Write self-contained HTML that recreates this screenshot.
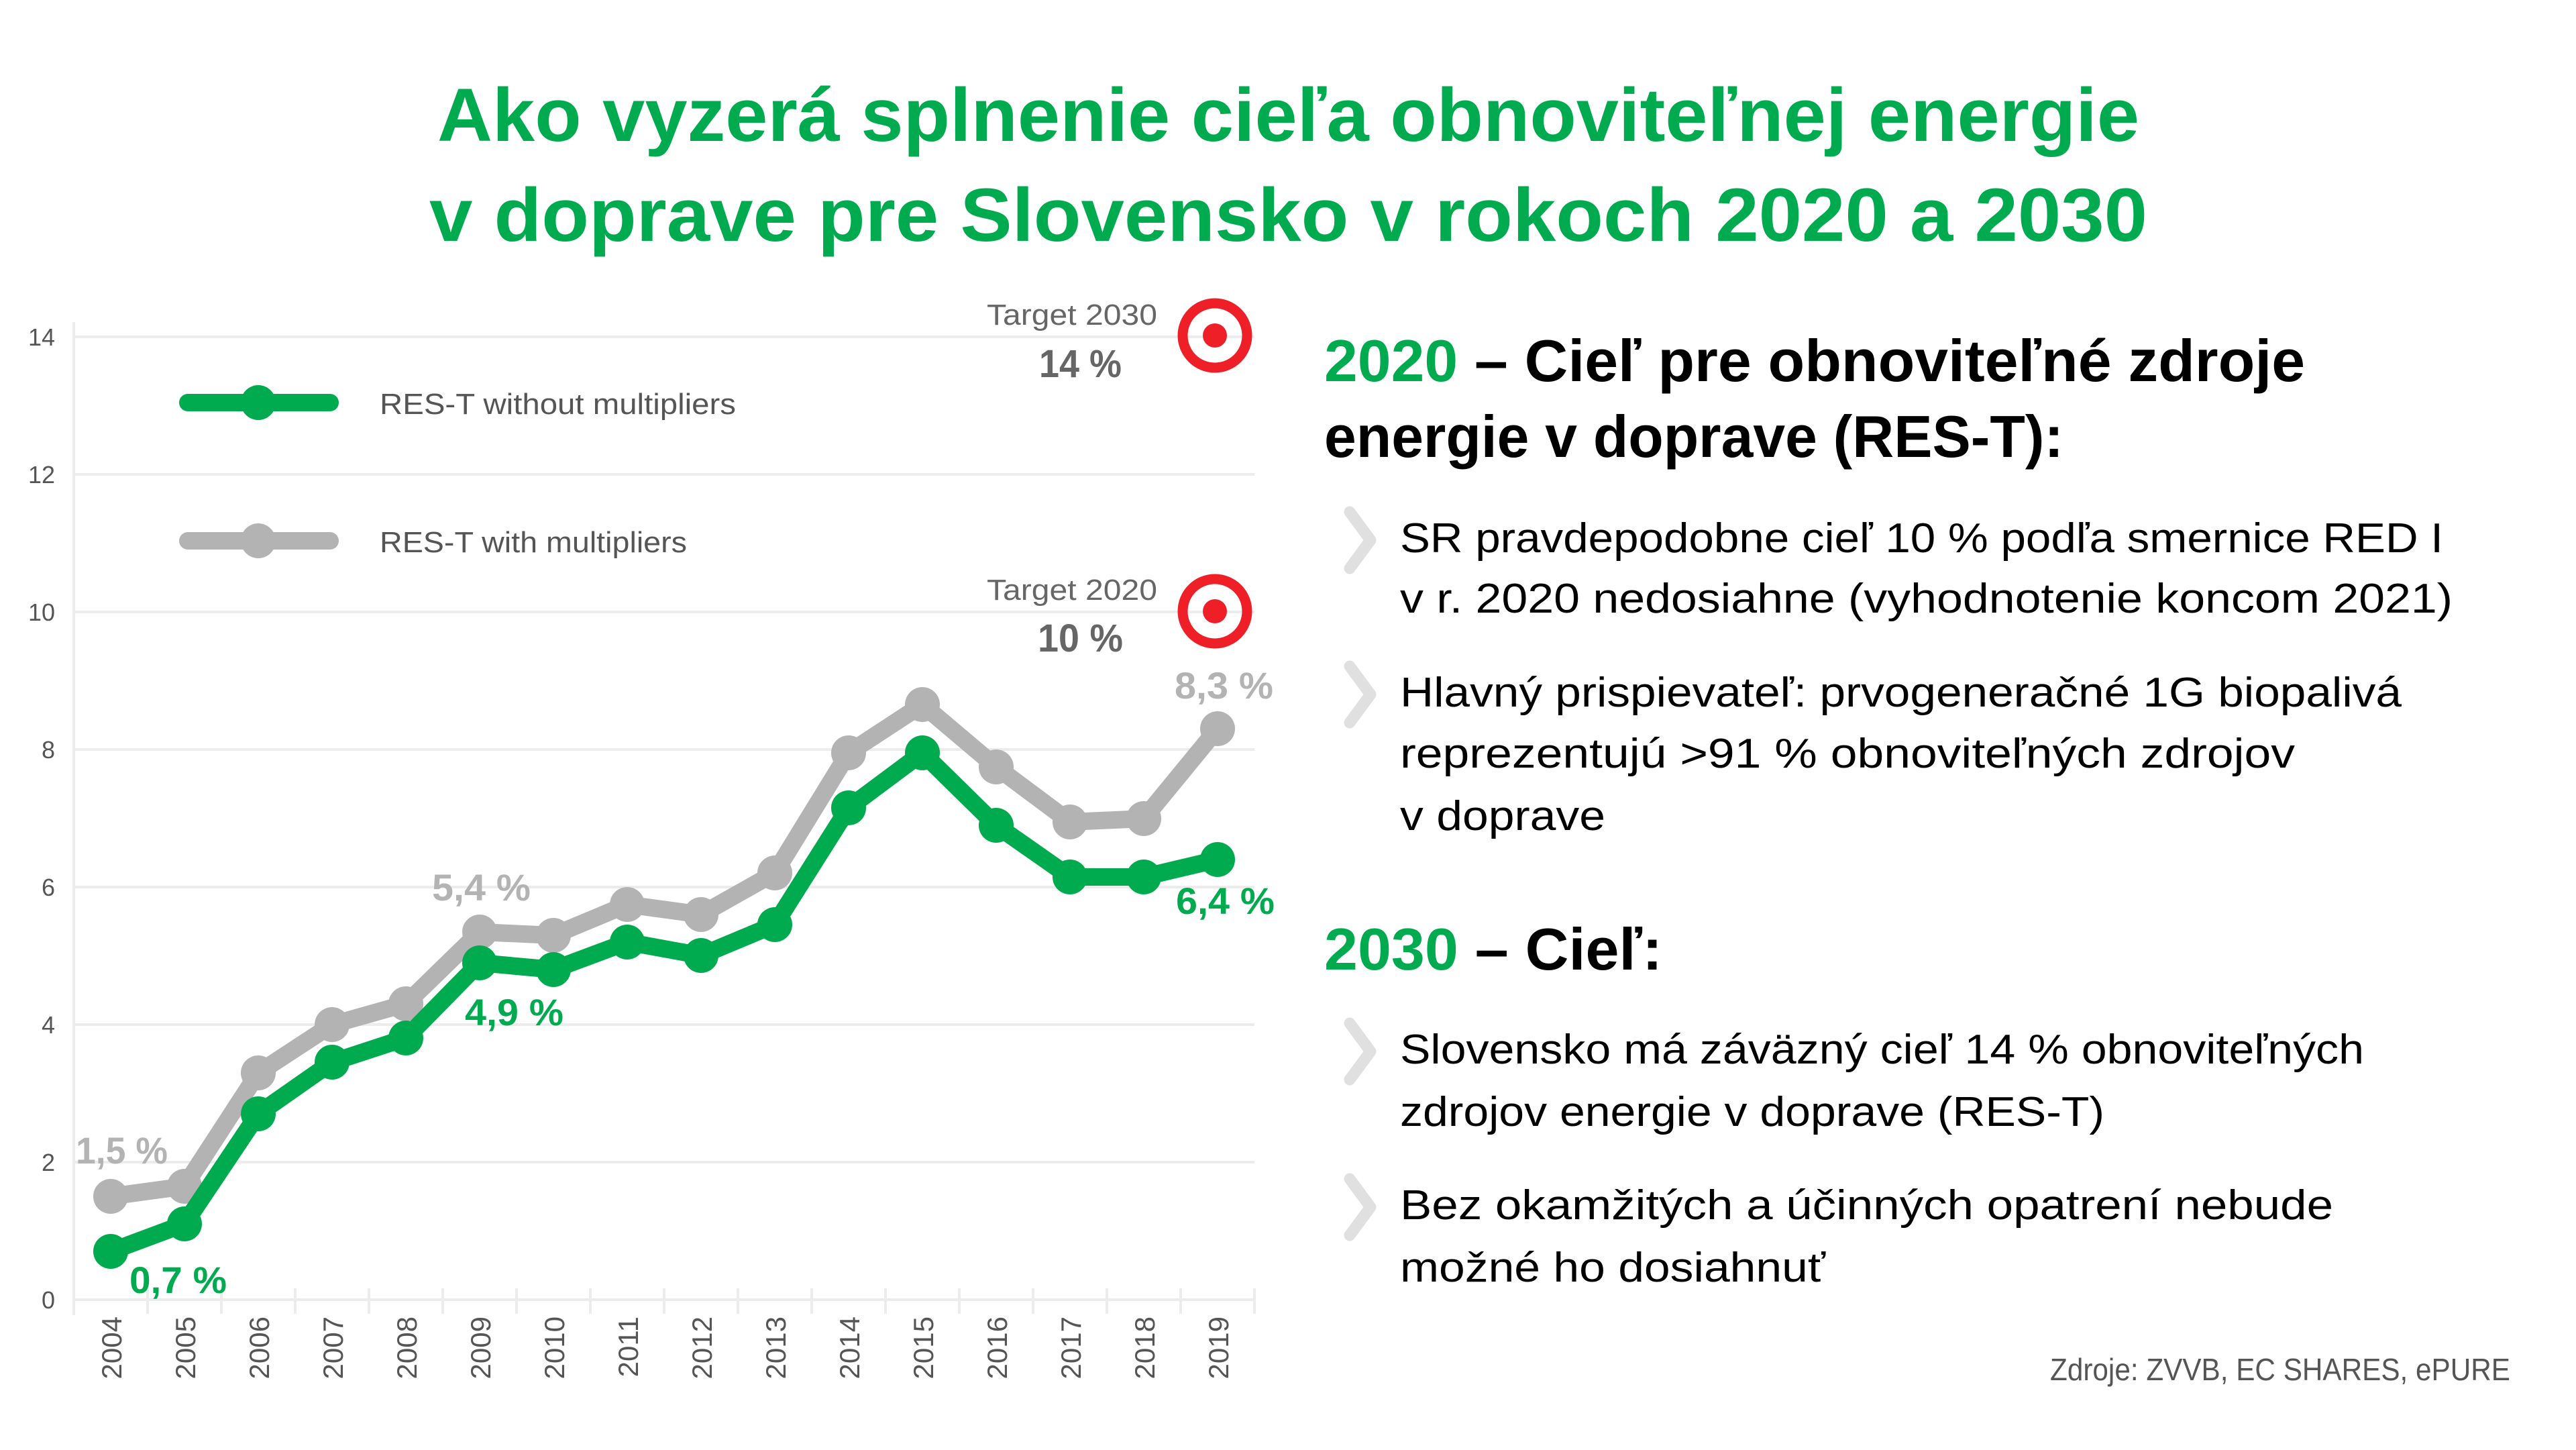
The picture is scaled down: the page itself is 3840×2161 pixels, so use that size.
<!DOCTYPE html>
<html><head><meta charset="utf-8"><style>
html,body{margin:0;padding:0;background:#fff;}
svg{display:block;}
text{font-family:"Liberation Sans",sans-serif;}
</style></head><body>
<svg width="3840" height="2161" viewBox="0 0 3840 2161" xmlns="http://www.w3.org/2000/svg">
<rect width="3840" height="2161" fill="#fff"/>
<g fill="#00aa4f" font-weight="bold" font-size="112">
<text x="652" y="210" textLength="2537" lengthAdjust="spacingAndGlyphs">Ako vyzerá splnenie cieľa obnoviteľnej energie</text>
<text x="640" y="359" textLength="2561" lengthAdjust="spacingAndGlyphs">v doprave pre Slovensko v rokoch 2020 a 2030</text>
</g>
<g stroke="#ececec" stroke-width="4">
<line x1="110" y1="502" x2="1870" y2="502"/>
<line x1="110" y1="707" x2="1870" y2="707"/>
<line x1="110" y1="912" x2="1870" y2="912"/>
<line x1="110" y1="1117" x2="1870" y2="1117"/>
<line x1="110" y1="1322" x2="1870" y2="1322"/>
<line x1="110" y1="1527" x2="1870" y2="1527"/>
<line x1="110" y1="1732" x2="1870" y2="1732"/>
<line x1="110" y1="1937" x2="1870" y2="1937"/>
<line x1="110" y1="480" x2="110" y2="1960"/>
<line x1="220" y1="1920" x2="220" y2="1958"/><line x1="330" y1="1920" x2="330" y2="1958"/><line x1="440" y1="1920" x2="440" y2="1958"/><line x1="550" y1="1920" x2="550" y2="1958"/><line x1="660" y1="1920" x2="660" y2="1958"/><line x1="770" y1="1920" x2="770" y2="1958"/><line x1="880" y1="1920" x2="880" y2="1958"/><line x1="990" y1="1920" x2="990" y2="1958"/><line x1="1100" y1="1920" x2="1100" y2="1958"/><line x1="1210" y1="1920" x2="1210" y2="1958"/><line x1="1320" y1="1920" x2="1320" y2="1958"/><line x1="1430" y1="1920" x2="1430" y2="1958"/><line x1="1540" y1="1920" x2="1540" y2="1958"/><line x1="1650" y1="1920" x2="1650" y2="1958"/><line x1="1760" y1="1920" x2="1760" y2="1958"/><line x1="1870" y1="1920" x2="1870" y2="1958"/>
</g>
<g fill="#555" font-size="36" text-anchor="end">
<text x="82" y="515">14</text><text x="82" y="720">12</text><text x="82" y="925">10</text>
<text x="82" y="1130">8</text><text x="82" y="1335">6</text><text x="82" y="1540">4</text>
<text x="82" y="1745">2</text><text x="82" y="1950">0</text>
</g>
<g fill="#555" font-size="42" text-anchor="end">
<text transform="translate(181,1962) rotate(-90)">2004</text>
<text transform="translate(291,1962) rotate(-90)">2005</text>
<text transform="translate(401,1962) rotate(-90)">2006</text>
<text transform="translate(511,1962) rotate(-90)">2007</text>
<text transform="translate(621,1962) rotate(-90)">2008</text>
<text transform="translate(731,1962) rotate(-90)">2009</text>
<text transform="translate(841,1962) rotate(-90)">2010</text>
<text transform="translate(951,1962) rotate(-90)">2011</text>
<text transform="translate(1061,1962) rotate(-90)">2012</text>
<text transform="translate(1171,1962) rotate(-90)">2013</text>
<text transform="translate(1281,1962) rotate(-90)">2014</text>
<text transform="translate(1391,1962) rotate(-90)">2015</text>
<text transform="translate(1501,1962) rotate(-90)">2016</text>
<text transform="translate(1611,1962) rotate(-90)">2017</text>
<text transform="translate(1721,1962) rotate(-90)">2018</text>
<text transform="translate(1831,1962) rotate(-90)">2019</text>
</g>
<g fill="#b3b3b3">
<polyline fill="none" stroke="#b3b3b3" stroke-width="26" stroke-linejoin="round" points="165,1783 275,1768 385,1599 495,1527 605,1496 715,1389 825,1394 935,1348 1045,1363 1155,1301 1265,1122 1375,1050 1485,1143 1595,1225 1705,1220 1815,1086"/>
<circle cx="165" cy="1783" r="26"/><circle cx="275" cy="1768" r="26"/><circle cx="385" cy="1599" r="26"/><circle cx="495" cy="1527" r="26"/><circle cx="605" cy="1496" r="26"/><circle cx="715" cy="1389" r="26"/><circle cx="825" cy="1394" r="26"/><circle cx="935" cy="1348" r="26"/><circle cx="1045" cy="1363" r="26"/><circle cx="1155" cy="1301" r="26"/><circle cx="1265" cy="1122" r="26"/><circle cx="1375" cy="1050" r="26"/><circle cx="1485" cy="1143" r="26"/><circle cx="1595" cy="1225" r="26"/><circle cx="1705" cy="1220" r="26"/><circle cx="1815" cy="1086" r="26"/>
</g>
<g fill="#00aa4f">
<polyline fill="none" stroke="#00aa4f" stroke-width="26" stroke-linejoin="round" points="165,1865 275,1824 385,1660 495,1583 605,1547 715,1435 825,1445 935,1404 1045,1424 1155,1378 1265,1204 1375,1122 1485,1230 1595,1307 1705,1307 1815,1281"/>
<circle cx="165" cy="1865" r="26"/><circle cx="275" cy="1824" r="26"/><circle cx="385" cy="1660" r="26"/><circle cx="495" cy="1583" r="26"/><circle cx="605" cy="1547" r="26"/><circle cx="715" cy="1435" r="26"/><circle cx="825" cy="1445" r="26"/><circle cx="935" cy="1404" r="26"/><circle cx="1045" cy="1424" r="26"/><circle cx="1155" cy="1378" r="26"/><circle cx="1265" cy="1204" r="26"/><circle cx="1375" cy="1122" r="26"/><circle cx="1485" cy="1230" r="26"/><circle cx="1595" cy="1307" r="26"/><circle cx="1705" cy="1307" r="26"/><circle cx="1815" cy="1281" r="26"/>
</g>
<g font-weight="bold" font-size="56">
<text x="113" y="1734" fill="#b3b3b3" textLength="137" lengthAdjust="spacingAndGlyphs">1,5 %</text>
<text x="193" y="1927" fill="#00aa4f" textLength="145" lengthAdjust="spacingAndGlyphs">0,7 %</text>
<text x="644" y="1342" fill="#b3b3b3" textLength="147" lengthAdjust="spacingAndGlyphs">5,4 %</text>
<text x="693" y="1528" fill="#00aa4f" textLength="147" lengthAdjust="spacingAndGlyphs">4,9 %</text>
<text x="1751" y="1041" fill="#b3b3b3" textLength="147" lengthAdjust="spacingAndGlyphs">8,3 %</text>
<text x="1753" y="1362" fill="#00aa4f" textLength="147" lengthAdjust="spacingAndGlyphs">6,4 %</text>
</g>
<line x1="280" y1="600" x2="492" y2="600" stroke="#00aa4f" stroke-width="26" stroke-linecap="round"/>
<circle cx="385" cy="600" r="26" fill="#00aa4f"/>
<line x1="280" y1="806" x2="492" y2="806" stroke="#b3b3b3" stroke-width="26" stroke-linecap="round"/>
<circle cx="385" cy="806" r="26" fill="#b3b3b3"/>
<g fill="#555" font-size="44">
<text x="566" y="617" textLength="531" lengthAdjust="spacingAndGlyphs">RES-T without multipliers</text>
<text x="566" y="823" textLength="458" lengthAdjust="spacingAndGlyphs">RES-T with multipliers</text>
</g>
<g fill="#666">
<text x="1471" y="484" font-size="44" textLength="254" lengthAdjust="spacingAndGlyphs">Target 2030</text>
<text x="1549" y="562" font-size="58" font-weight="bold" textLength="123" lengthAdjust="spacingAndGlyphs">14 %</text>
<text x="1471" y="894" font-size="44" textLength="254" lengthAdjust="spacingAndGlyphs">Target 2020</text>
<text x="1547" y="971" font-size="58" font-weight="bold" textLength="127" lengthAdjust="spacingAndGlyphs">10 %</text>
</g>
<circle cx="1811" cy="500" r="48" fill="none" stroke="#ee1f27" stroke-width="15"/>
<circle cx="1811" cy="500" r="18" fill="#ee1f27"/>
<circle cx="1811" cy="911" r="48" fill="none" stroke="#ee1f27" stroke-width="15"/>
<circle cx="1811" cy="911" r="18" fill="#ee1f27"/>
<g font-weight="bold" font-size="88">
<text x="1974" y="568" textLength="1462" lengthAdjust="spacingAndGlyphs"><tspan fill="#00aa4f">2020</tspan><tspan fill="#000"> – Cieľ pre obnoviteľné zdroje</tspan></text>
<text x="1974" y="681" fill="#000" textLength="1102" lengthAdjust="spacingAndGlyphs">energie v doprave (RES-T):</text>
<text x="1974" y="1445" textLength="504" lengthAdjust="spacingAndGlyphs"><tspan fill="#00aa4f">2030</tspan><tspan fill="#000"> – Cieľ:</tspan></text>
</g>
<g fill="none" stroke="#e0e0e0" stroke-width="17" stroke-linecap="round" stroke-linejoin="round">
<polyline points="2012,763 2043,805 2012,847"/>
<polyline points="2012,993 2043,1035 2012,1077"/>
<polyline points="2012,1525 2043,1567 2012,1609"/>
<polyline points="2012,1757 2043,1799 2012,1841"/>
</g>
<g fill="#000" font-size="62">
<text x="2087" y="823" textLength="1555" lengthAdjust="spacingAndGlyphs">SR pravdepodobne cieľ 10 % podľa smernice RED I</text>
<text x="2087" y="913" textLength="1569" lengthAdjust="spacingAndGlyphs">v r. 2020 nedosiahne (vyhodnotenie koncom 2021)</text>
<text x="2087" y="1053" textLength="1493" lengthAdjust="spacingAndGlyphs">Hlavný prispievateľ: prvogeneračné 1G biopalivá</text>
<text x="2087" y="1144" textLength="1334" lengthAdjust="spacingAndGlyphs">reprezentujú &gt;91 %  obnoviteľných zdrojov</text>
<text x="2087" y="1237" textLength="306" lengthAdjust="spacingAndGlyphs">v doprave</text>
<text x="2087" y="1585" textLength="1437" lengthAdjust="spacingAndGlyphs">Slovensko má záväzný cieľ 14 % obnoviteľných</text>
<text x="2087" y="1678" textLength="1050" lengthAdjust="spacingAndGlyphs">zdrojov energie v doprave (RES-T)</text>
<text x="2087" y="1817" textLength="1391" lengthAdjust="spacingAndGlyphs">Bez okamžitých a účinných opatrení nebude</text>
<text x="2087" y="1910" textLength="634" lengthAdjust="spacingAndGlyphs">možné ho dosiahnuť</text>
</g>
<text x="3056" y="2057" fill="#555" font-size="46" textLength="686" lengthAdjust="spacingAndGlyphs">Zdroje: ZVVB, EC SHARES, ePURE</text>
</svg>
</body></html>
